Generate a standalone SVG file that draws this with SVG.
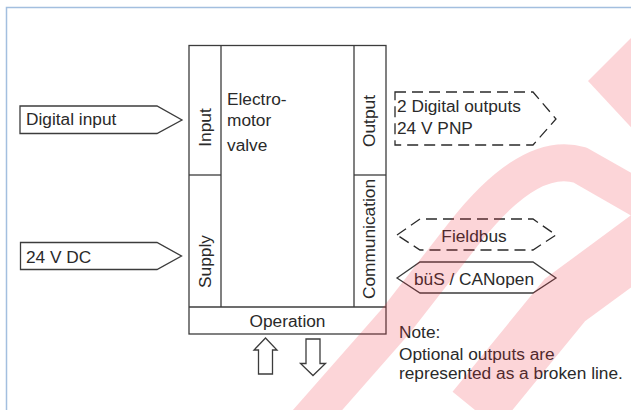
<svg xmlns="http://www.w3.org/2000/svg" width="631" height="410" viewBox="0 0 631 410">
<style>
text{font-family:"Liberation Sans",Arial,sans-serif;font-size:17.3px;fill:#2a2a2a}
.ln{fill:none;stroke:#3c3c3c;stroke-width:1.3}
.dash{fill:none;stroke:#2a2a2a;stroke-width:1.3;stroke-dasharray:11 6}
.wms{fill:none;stroke:#f02d3c;stroke-opacity:0.2}
.wm{fill:#f02d3c;fill-opacity:0.2;stroke:none}
.mid{text-anchor:middle}
</style>
<rect x="0" y="0" width="631" height="410" fill="#fff"/>
<rect x="6.5" y="7.5" width="640" height="420" fill="none" stroke="#a3bfdf" stroke-width="1.5"/>

<g id="main-block">
<rect class="ln" x="189" y="45.5" width="197" height="288.5"/>
<line class="ln" x1="221" y1="45.5" x2="221" y2="307"/>
<line class="ln" x1="354" y1="45.5" x2="354" y2="307"/>
<line class="ln" x1="189" y1="175" x2="221" y2="175"/>
<line class="ln" x1="354" y1="175" x2="386" y2="175"/>
<line class="ln" x1="189" y1="307" x2="386" y2="307"/>
<text x="227" y="105">Electro-</text>
<text x="227" y="126">motor</text>
<text x="227" y="151">valve</text>
<text class="mid" transform="translate(211,127.5) rotate(-90)">Input</text>
<text class="mid" transform="translate(211,261.5) rotate(-90)">Supply</text>
<text class="mid" transform="translate(375,121) rotate(-90)">Output</text>
<text class="mid" transform="translate(375,239) rotate(-90)">Communication</text>
<text class="mid" x="287.5" y="327">Operation</text>
</g>

<g id="digital-input">
<polygon class="ln" points="20,106 157,106 182,120 157,133.5 20,133.5"/>
<text x="26" y="125">Digital input</text>
</g>

<g id="supply-24vdc">
<polygon class="ln" points="20.5,242.5 157,242.5 181.5,256 157,269.5 20.5,269.5"/>
<text x="26" y="263">24 V DC</text>
</g>

<g id="digital-outputs">
<polygon class="dash" points="395,92 533,92 556,119 533,145 395,145"/>
<text x="397" y="112">2 Digital outputs</text>
<text x="397" y="134">24 V PNP</text>
</g>

<g id="fieldbus">
<polygon class="dash" points="397,235 420,219 533,219 556,235 533,250 420,250"/>
<text class="mid" x="474" y="242">Fieldbus</text>
</g>

<g id="bus-canopen">
<polygon class="ln" points="397,278 420,262 533,262 556,278 533,293 420,293"/>
<text class="mid" x="474" y="285">büS / CANopen</text>
</g>

<g id="operation-arrows">
<polygon class="ln" points="265.5,338 277,350 272.5,350 272.5,374 258.5,374 258.5,350 254,350"/>
<polygon class="ln" points="306,339 320,339 320,363.5 325.5,363.5 313,375.5 300.5,363.5 306,363.5"/>
</g>

<g id="note">
<text x="399" y="338">Note:</text>
<text x="399" y="360">Optional outputs are</text>
<text x="399" y="379">represented as a broken line.</text>
</g>

<g id="connectors"></g>

<g id="watermark">
<polygon class="wm" points="588,81 640,29 640,137"/>
<path class="wms" stroke-width="37" d="M 300,430 L 395,322 L 465,232 Q 530,150 580,165 L 650,205"/>
<path class="wms" stroke-width="58" d="M 660,230 L 565,300 L 475,410"/>
</g>
</svg>
